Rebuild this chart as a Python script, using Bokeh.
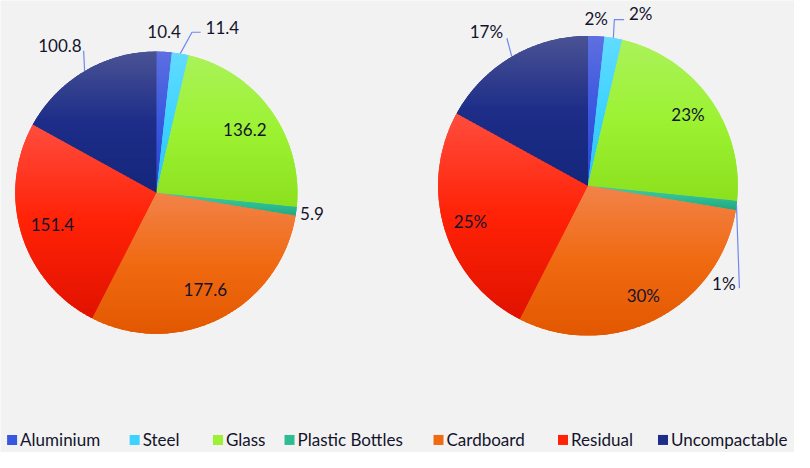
import math
from bokeh.plotting import figure
from bokeh.models import Range1d, ColumnDataSource
from bokeh.core.properties import value
from bokeh.embed import file_html
from bokeh.resources import INLINE

# ---------------- data ----------------
categories = ["Aluminium", "Steel", "Glass", "Plastic Bottles", "Cardboard", "Residual", "Uncompactable"]
amounts = [10.4, 11.4, 136.2, 5.9, 177.6, 151.4, 100.8]
amount_labels = ["10.4", "11.4", "136.2", "5.9", "177.6", "151.4", "100.8"]
percent_labels = ["2%", "2%", "23%", "1%", "30%", "25%", "17%"]

# ---------------- style ----------------
mid_colors = ["#3a57e0", "#3ed2ff", "#9cf232", "#2ebd92", "#f06a12", "#ff2206", "#1d2d88"]
top_colors = ["#5e6fe0", "#62dbff", "#aaf25a", "#45caa2", "#f2834a", "#ff4d3e", "#4a5394"]
bot_colors = ["#2b45d2", "#2cc2f2", "#8ce01e", "#22a882", "#e25800", "#e01200", "#14267c"]
BG = "#f2f2f2"
TXT = "#14142c"
LEADER = "#7088ee"
FONT = "Lato"

W, H = 794, 452
KX, KY = W / 810.0, H / 468.0
K = (KX + KY) / 2


def sx(x):
    return x * KX


def sy(y):
    return H - y * KY


# pie geometry (reference px) and label placement styles (offsets in reference px, y up)
pies = [
    dict(cx=sx(159), cy=sy(199), r=145 * K, labels=amount_labels, inner=0.77,
         out={0: dict(lead=[], txt=(0, 21), align="center"),
              1: dict(lead=[(12, 22), (21, 22)], txt=(26, 27), align="left"),
              3: dict(lead=[], txt=(4, -2), align="left"),
              6: dict(lead=[(-1, 21)], txt=(-3, 26), align="right")}),
    dict(cx=sx(599.3), cy=sy(191.8), r=154 * K, labels=percent_labels, inner=0.82,
         out={0: dict(lead=[], txt=(0, 18), align="center"),
              1: dict(lead=[(1, 19), (11, 19)], txt=(16, 25), align="left"),
              3: dict(lead=[(3, -85)], txt=(-1, -80), align="right"),
              6: dict(lead=[(-5, 19)], txt=(-9, 26), align="right")}),
]

p = figure(width=W, height=H, output_backend="svg", toolbar_location=None,
           x_range=Range1d(0, W), y_range=Range1d(0, H),
           x_axis_location=None, y_axis_location=None, min_border=0)
p.grid.visible = False
p.outline_line_color = None
p.background_fill_color = BG
p.border_fill_color = BG


def hex2rgb(h):
    h = h.lstrip("#")
    return tuple(int(h[i:i + 2], 16) for i in (0, 2, 4))


def lerp(c1, c2, t):
    a, b = hex2rgb(c1), hex2rgb(c2)
    return "#%02x%02x%02x" % tuple(int(round(a[i] + (b[i] - a[i]) * t)) for i in range(3))


def grad(i, t):
    if t < 0.5:
        return lerp(top_colors[i], mid_colors[i], t / 0.5)
    return lerp(mid_colors[i], bot_colors[i], (t - 0.5) / 0.5)


def clip_y(poly, y0, keep_above):
    out = []
    n = len(poly)
    for k in range(n):
        cur, prev = poly[k], poly[k - 1]
        cin = cur[1] >= y0 if keep_above else cur[1] <= y0
        pin = prev[1] >= y0 if keep_above else prev[1] <= y0
        if cin != pin:
            t = (y0 - prev[1]) / (cur[1] - prev[1])
            out.append((prev[0] + t * (cur[0] - prev[0]), y0))
        if cin:
            out.append(cur)
    return out


total = sum(amounts)
for pie in pies:
    cx, cy, r = pie["cx"], pie["cy"], pie["r"]
    starts, ends, mids = [], [], []
    cum = 0.0
    for v in amounts:
        f0 = cum / total
        cum += v
        f1 = cum / total
        a_end = math.pi / 2 - 2 * math.pi * f0
        a_start = math.pi / 2 - 2 * math.pi * f1
        starts.append(a_start)
        ends.append(a_end)
        mids.append((a_start + a_end) / 2)

    src = ColumnDataSource(dict(x=[cx] * len(amounts), y=[cy] * len(amounts),
                                start=starts, end=ends, color=mid_colors, cat=categories))
    p.wedge(x="x", y="y", radius=r, start_angle="start", end_angle="end",
            fill_color="color", line_color=None, source=src)

    # vertical gradient per slice, drawn as thin horizontal bands clipped to the slice
    xs, ys, cs = [], [], []
    for i in range(len(amounts)):
        a0, a1 = starts[i], ends[i]
        n = max(6, int((a1 - a0) * 180 / math.pi * 1.5))
        poly = [(cx, cy)] + [(cx + r * math.cos(a0 + (a1 - a0) * k / n),
                              cy + r * math.sin(a0 + (a1 - a0) * k / n)) for k in range(n + 1)]
        ymax = max(q[1] for q in poly)
        ymin = min(q[1] for q in poly)
        h = 2.0
        nb = int(math.ceil((ymax - ymin) / h))
        for b in range(nb):
            yhi = ymax - b * h
            ylo = yhi - h - 1.0
            piece = clip_y(clip_y(poly, yhi, False), ylo, True)
            if len(piece) < 3:
                continue
            t = min(1.0, (b * h + h / 2) / (ymax - ymin))
            xs.append([q[0] for q in piece])
            ys.append([q[1] for q in piece])
            cs.append(grad(i, t))
    p.patches(xs=xs, ys=ys, fill_color=cs, line_color=None)

    # labels
    lx, ly, lt = [], [], []
    lead_xs, lead_ys = [], []
    for i, lab in enumerate(pie["labels"]):
        m = mids[i]
        if i in pie["out"]:
            spec = pie["out"][i]
            ax, ay = cx + r * math.cos(m), cy + r * math.sin(m)
            if spec["lead"]:
                lead_xs.append([ax] + [ax + d[0] * K for d in spec["lead"]])
                lead_ys.append([ay] + [ay + d[1] * K for d in spec["lead"]])
            p.text(x=[ax + spec["txt"][0] * K], y=[ay + spec["txt"][1] * K], text=[lab],
                   text_font=value(FONT), text_font_size="17px", text_color=TXT,
                   text_align=spec["align"], text_baseline="middle")
        else:
            rr = r * pie["inner"]
            lx.append(cx + rr * math.cos(m))
            ly.append(cy + rr * math.sin(m))
            lt.append(lab)
    p.multi_line(xs=lead_xs, ys=lead_ys, line_color=LEADER, line_width=1.2)
    p.text(x=lx, y=ly, text=lt, text_font=value(FONT), text_font_size="17px",
           text_color=TXT, text_align="center", text_baseline="middle")

# legend
leg_text_x = [sx(20), sx(145), sx(230), sx(303), sx(455), sx(582), sx(684)]
leg_y = sy(455)
p.scatter(x=[t - 8 for t in leg_text_x], y=[leg_y] * len(categories), marker="square",
          size=10, fill_color=mid_colors, line_color=None)
p.text(x=leg_text_x, y=[leg_y] * len(categories), text=categories,
       text_font=value(FONT), text_font_size="17px", text_color=TXT,
       text_align="left", text_baseline="middle")

html = file_html(p, INLINE)
html = html.replace("<body>", '<body style="background-color:%s;">' % BG, 1)
open("out.html", "w").write(html)
